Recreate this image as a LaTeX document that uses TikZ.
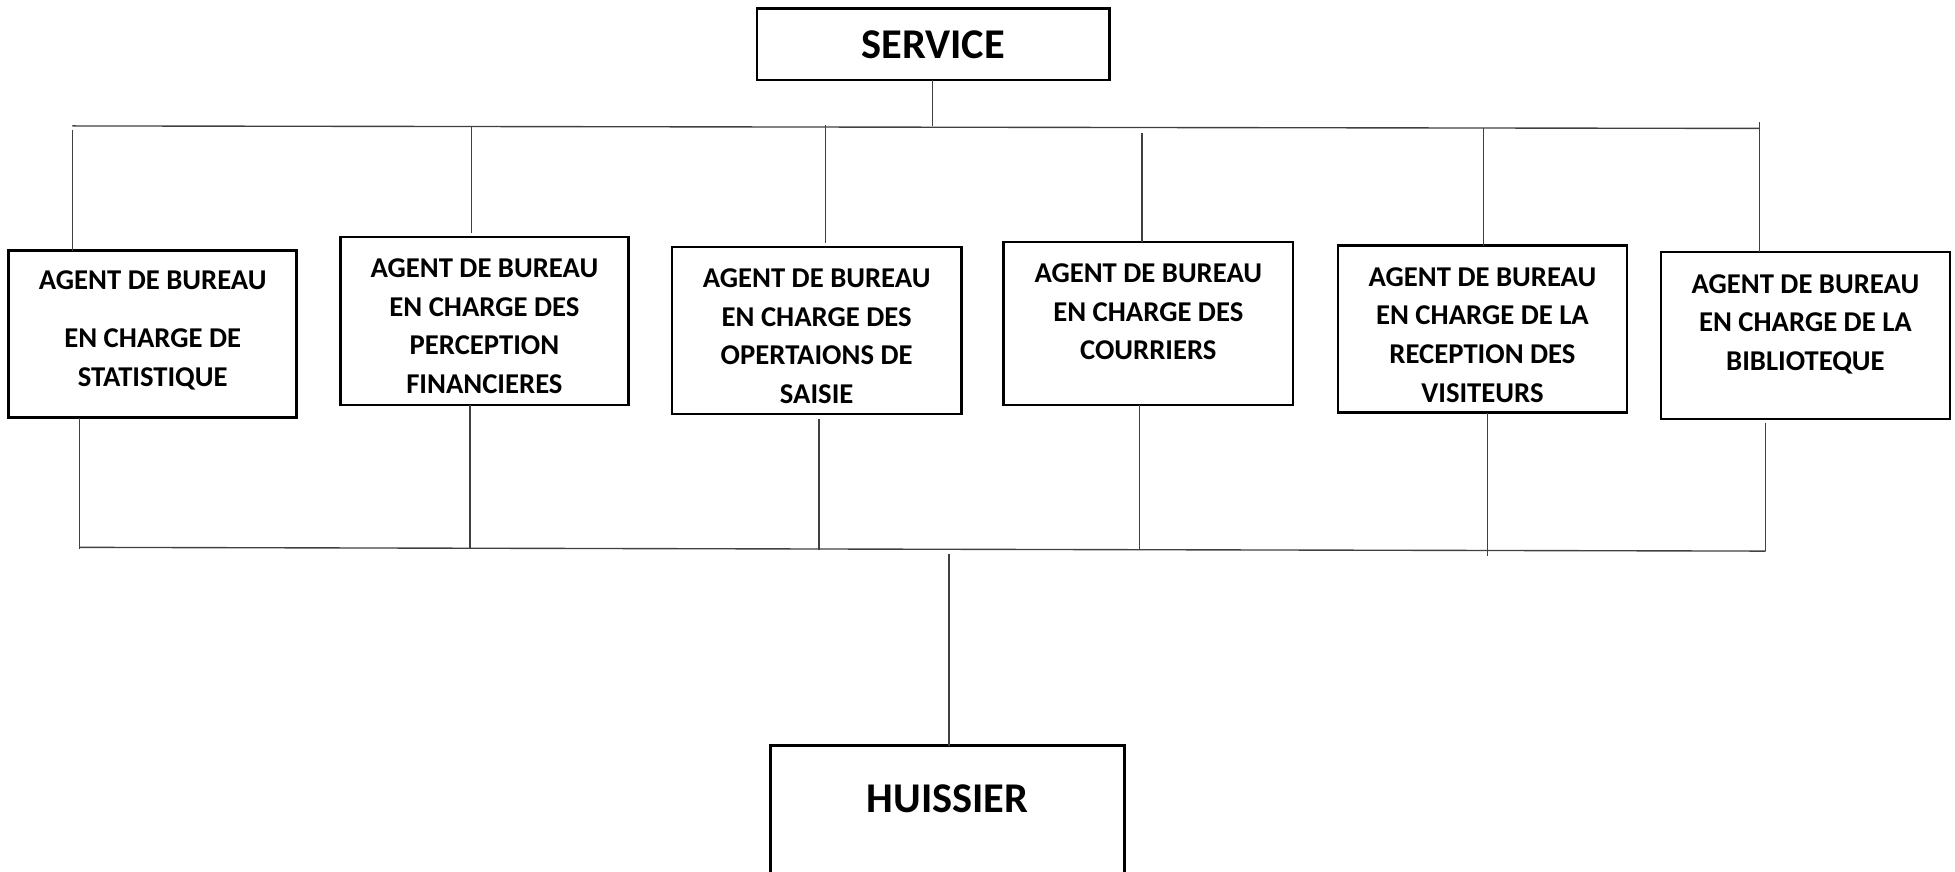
\documentclass[tikz,border=0pt]{standalone}
\usepackage{fontspec}
\setmainfont{Carlito}
\begin{document}
\begin{tikzpicture}[x=1pt,y=-1pt,
  unitbox/.style={draw=black, line width=2pt, inner sep=0pt, outer sep=0pt},
  unittext/.style={inner sep=0pt, align=center, font=\fontsize{23}{31}\selectfont\bfseries},
  headtext/.style={inner sep=0pt, font=\fontsize{34}{40}\selectfont\bfseries},
  link/.style={draw=black!75, line width=1.1pt}]
\useasboundingbox (0,0) rectangle (1568,699);
\clip (0,0) rectangle (1568,699);

% head of the service
\node[unitbox, minimum width=283pt, minimum height=57pt, headtext] (svc) at (748.5,35.5) {SERVICE};

% the six office agents
\node[unitbox, minimum width=231pt, minimum height=134pt] (b1) at (122.5,268) {};
\node[unitbox, minimum width=231pt, minimum height=135pt] (b2) at (388.5,257.5) {};
\node[unitbox, minimum width=232pt, minimum height=134pt] (b3) at (655,265) {};
\node[unitbox, minimum width=232pt, minimum height=131pt] (b4) at (921,259.5) {};
\node[unitbox, minimum width=232pt, minimum height=134pt] (b5) at (1189,264) {};
\node[unitbox, minimum width=232pt, minimum height=134pt] (b6) at (1448,269) {};

\node[unittext] (t1) at (122.5,265) {AGENT DE BUREAU\\[16pt]EN CHARGE DE\\STATISTIQUE};
\node[unittext] (t2) at (388.5,261.5) {AGENT DE BUREAU\\EN CHARGE DES\\PERCEPTION\\FINANCIERES};
\node[unittext] (t3) at (655,269.5) {AGENT DE BUREAU\\EN CHARGE DES\\OPERTAIONS DE\\SAISIE};
\node[unittext] (t4) at (921,250) {AGENT DE BUREAU\\EN CHARGE DES\\COURRIERS};
\node[unittext] (t5) at (1189,268.5) {AGENT DE BUREAU\\EN CHARGE DE LA\\RECEPTION DES\\VISITEURS};
\node[unittext] (t6) at (1448,260) {AGENT DE BUREAU\\EN CHARGE DE LA\\BIBLIOTEQUE};

% usher
\node[unitbox, minimum width=284pt, minimum height=142pt] (hu) at (760,669) {};
\node[headtext] (ht) at (760,641) {HUISSIER};

% upper distribution bar
\coordinate (tl) at (58,101);
\coordinate (tr) at (1411,103);
\coordinate (sj) at (748,101);
\draw[link] (tl) -- (tr);
\draw[link] (svc.south -| sj) -- (sj);

\coordinate (u1) at (58,104);
\coordinate (u2) at (378,101);
\coordinate (u3) at (662,100);
\coordinate (u4) at (916,107);
\coordinate (u5) at (1190,103);
\coordinate (u6) at (1411,98);
\draw[link] (u1) -- (u1 |- b1.north);
\draw[link, shorten >=3pt] (u2) -- (u2 |- b2.north);
\draw[link, shorten >=3pt] (u3) -- (u3 |- b3.north);
\draw[link] (u4) -- (u4 |- b4.north);
\draw[link] (u5) -- (u5 |- b5.north);
\draw[link] (u6) -- (u6 |- b6.north);

% lower collecting bar
\coordinate (d1) at (64,440);
\coordinate (d2) at (377,440);
\coordinate (d3) at (657,441);
\coordinate (d4) at (914,441);
\coordinate (d5) at (1193,446);
\coordinate (d6) at (1416,442);
\coordinate (bl) at (64,439);
\draw[link] (bl) -- (d6);
\draw[link] (d1 |- b1.south) -- (d1);
\draw[link] (d2 |- b2.south) -- (d2);
\draw[link, shorten <=4pt] (d3 |- b3.south) -- (d3);
\draw[link] (d4 |- b4.south) -- (d4);
\draw[link] (d5 |- b5.south) -- (d5);
\draw[link, shorten <=3pt] (d6 |- b6.south) -- (d6);

% link down to the usher
\coordinate (m) at (761,444);
\draw[link] (m) -- (m |- hu.north);
\end{tikzpicture}
\end{document}
